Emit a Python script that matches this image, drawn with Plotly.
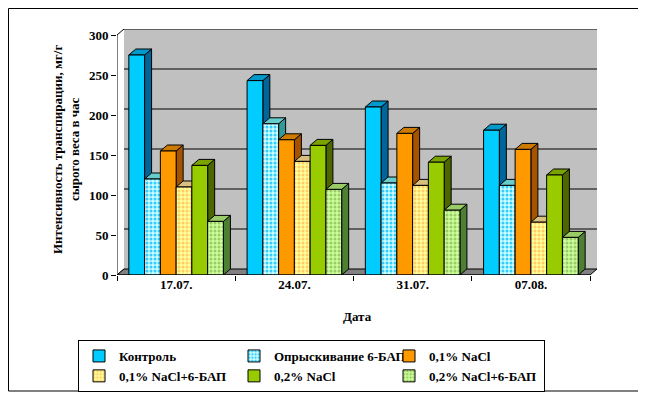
import plotly.graph_objects as go

# ---------------- data ----------------
dates = ["17.07.", "24.07.", "31.07.", "07.08."]
series_names = ["Контроль", "Опрыскивание 6-БАП", "0,1% NaCl",
                "0,1% NaCl+6-БАП", "0,2% NaCl", "0,2% NaCl+6-БАП"]
control = [275, 243, 210, 181]
spray_bap = [120, 189, 115, 112]
nacl01 = [155, 169, 177, 157]
nacl01_bap = [110, 142, 112, 66]
nacl02 = [137, 162, 141, 125]
nacl02_bap = [67, 107, 81, 47]
y_ticks = [0, 50, 100, 150, 200, 250, 300]
y_title = "Интенсивность транспирации, мг/г<br>сырого веса в час"
x_title = "Дата"

values = [control, spray_bap, nacl01, nacl01_bap, nacl02, nacl02_bap]

# ---------------- styles ----------------
front = ["#00CCFF", "#CCFFFF", "#FF9900", "#FFFF99", "#99CC00", "#CCFF99"]
dots = [None, "#33CCFF", None, "#FFCC66", None, "#99CC66"]
top_col = ["#0099CC", "#66CCCC", "#CC7A00", "#D9C080", "#7AA300", "#99CC66"]
side_col = ["#006699", "#339999", "#A65300", "#A89050", "#4D6600", "#4D8033"]

OFF = 8  # page body margin in the browser
W, H = 646 - OFF, 397 - OFF
ML, MR, MT, MB = 117 - OFF, 49, 29 - OFF, 122
PW, PH = W - ML - MR, H - MT - MB
DEPTH_PX_X, DEPTH_PX_Y = 7, 6
n_cat = len(dates)
DX = DEPTH_PX_X * n_cat / (PW - DEPTH_PX_X)
YMAX = y_ticks[-1]
DY = DEPTH_PX_Y * YMAX / (PH - DEPTH_PX_Y)
BARGAP = 0.2
bw = (1 - BARGAP) / len(values)

FONT = "Liberation Serif"

fig = go.Figure()
for i, (name, vals) in enumerate(zip(series_names, values)):
    marker = dict(color=front[i], line=dict(color="black", width=1))
    if dots[i]:
        marker["pattern"] = dict(shape=".", fgcolor=dots[i], bgcolor=front[i],
                                 size=4, solidity=0.45, fillmode="replace")
    fig.add_trace(go.Bar(name=name, x=dates, y=vals, marker=marker))

shapes = []
# back wall
shapes.append(dict(type="rect", xref="x", yref="y", x0=-0.5 + DX, x1=n_cat - 0.5 + DX,
                   y0=DY, y1=YMAX + DY, fillcolor="#C0C0C0", line=dict(width=0),
                   layer="below"))
for t in y_ticks[1:]:
    shapes.append(dict(type="line", xref="x", yref="y", x0=-0.5 + DX, x1=n_cat - 0.5 + DX,
                       y0=t + DY, y1=t + DY, line=dict(color="black", width=1),
                       layer="below"))
# left wall edges
for t in (0, YMAX):
    shapes.append(dict(type="line", xref="x", yref="y", x0=-0.5, x1=-0.5 + DX,
                       y0=t, y1=t + DY, line=dict(color="black", width=1), layer="below"))
# floor
shapes.append(dict(type="path", xref="x", yref="y",
                   path=f"M {-0.5} 0 L {n_cat-0.5} 0 L {n_cat-0.5+DX} {DY} L {-0.5+DX} {DY} Z",
                   fillcolor="#808080", line=dict(color="black", width=1), layer="below"))
# 3D faces of bars
for c in range(n_cat):
    for i, vals in enumerate(values):
        v = vals[c]
        x0 = c - (1 - BARGAP) / 2 + i * bw
        x1 = x0 + bw
        shapes.append(dict(type="path", xref="x", yref="y",
                           path=f"M {x1} 0 L {x1} {v} L {x1+DX} {v+DY} L {x1+DX} {DY} Z",
                           fillcolor=side_col[i], line=dict(color="black", width=1),
                           layer="below"))
        shapes.append(dict(type="path", xref="x", yref="y",
                           path=f"M {x0} {v} L {x1} {v} L {x1+DX} {v+DY} L {x0+DX} {v+DY} Z",
                           fillcolor=top_col[i], line=dict(color="black", width=1),
                           layer="below"))
# axis lines
shapes.append(dict(type="line", xref="x", yref="y", x0=-0.5, x1=-0.5, y0=0, y1=YMAX,
                   line=dict(color="black", width=1)))
shapes.append(dict(type="line", xref="x", yref="y", x0=-0.5, x1=n_cat - 0.5, y0=0, y1=0,
                   line=dict(color="black", width=1)))


def px_x(px):
    """screen pixel x -> paper coordinate"""
    return (px - OFF - ML) / PW


def px_y(py):
    """screen pixel y -> paper coordinate"""
    return (H - MB - (py - OFF)) / PH


# outer border
shapes.append(dict(type="rect", xref="paper", yref="paper",
                   x0=px_x(OFF + 0.5), x1=px_x(640), y0=px_y(391), y1=px_y(OFF + 0.5),
                   line=dict(color="black", width=1), fillcolor="rgba(0,0,0,0)"))

annotations = [
    dict(text=y_title, xref="paper", yref="paper", x=px_x(66), y=px_y(150),
         textangle=-90, showarrow=False, font=dict(size=13, family=FONT, color="black", weight="bold"),
         xanchor="center", yanchor="middle"),
    dict(text=x_title, xref="paper", yref="paper", x=px_x(357), y=px_y(316),
         showarrow=False, font=dict(size=13, family=FONT, color="black", weight="bold"),
         xanchor="center", yanchor="middle"),
]

fig.update_layout(
    width=W, height=H,
    margin=dict(l=ML, r=MR, t=MT, b=MB, pad=0, autoexpand=False),
    barmode="group", bargap=BARGAP, bargroupgap=0,
    paper_bgcolor="white", plot_bgcolor="white",
    font=dict(family=FONT, size=13, color="black", weight="bold"),
    shapes=shapes, annotations=annotations,
    xaxis=dict(type="category", range=[-0.5, n_cat - 0.5 + DX], showgrid=False,
               showline=False, zeroline=False, ticks="outside", tickson="boundaries",
               ticklen=5, tickcolor="black", tickfont=dict(size=13, family=FONT, weight="bold")),
    yaxis=dict(range=[0, YMAX + DY], tickvals=y_ticks, showgrid=False, showline=False,
               zeroline=False, ticks="outside", ticklen=5, tickcolor="black",
               tickfont=dict(size=13, family=FONT, weight="bold")),
    legend=dict(orientation="h", x=px_x(78), y=px_y(340), xanchor="left", yanchor="top",
                entrywidth=110, entrywidthmode="pixels", bordercolor="black", borderwidth=1,
                bgcolor="white", font=dict(size=13, family=FONT, weight="bold"),
                traceorder="normal", itemwidth=30, tracegroupgap=0),
    showlegend=True,
)

fig.write_html("out.html")
